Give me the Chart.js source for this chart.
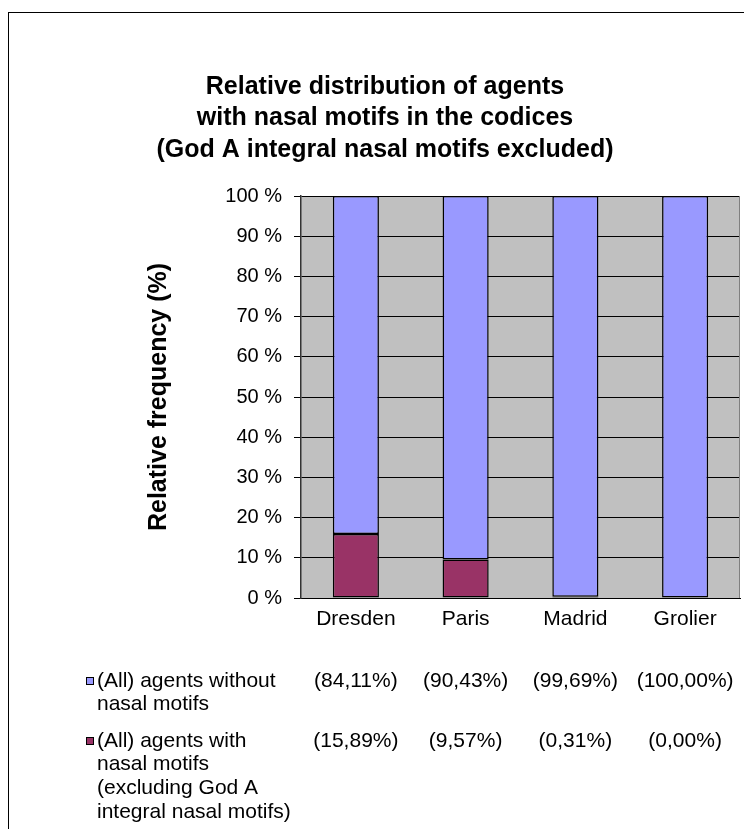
<!DOCTYPE html>
<html lang="en">
<head>
  <meta charset="UTF-8" />
  <title>Relative distribution of agents</title>
  <script src="https://cdn.jsdelivr.net/npm/chart.js"></script>
  <style>
    body { margin: 0; background: #fff; }
    #wrap { width: 744px; height: 829px; }
  </style>
</head>
<body>
  <div id="wrap"><canvas id="grafico" width="744" height="829"></canvas></div>

  <script>
    const codices = ["Dresden", "Paris", "Madrid", "Grolier"];
    const semNasal = [84.11, 90.43, 99.69, 100.00];
    const comNasal = [15.89, 9.57, 0.31, 0.00];
    const yTicks = [0, 10, 20, 30, 40, 50, 60, 70, 80, 90, 100];
    const tituloLinhas = [
      "Relative distribution of agents",
      "with nasal motifs in the codices",
      "(God A integral nasal motifs excluded)"
    ];
    const nomeSem = ["(All) agents without", "nasal motifs"];
    const nomeCom = ["(All) agents with", "nasal motifs", "(excluding God A", "integral nasal motifs)"];

    const FONTE = "'Liberation Sans', Arial, sans-serif";
    const AZUL = "#9999FF";
    const VINHO = "#993366";

    const fmt = v => "(" + v.toFixed(2).replace(".", ",") + "%)";

    // moldura, fundo cinza, titulo e tabela de dados
    const desenhoExtra = {
      id: "desenhoExtra",
      beforeDraw(chart) {
        const { ctx, chartArea: a } = chart;
        ctx.save();
        ctx.fillStyle = "#fff";
        ctx.fillRect(0, 0, chart.width, chart.height);
        ctx.strokeStyle = "#000";
        ctx.lineWidth = 1;
        ctx.strokeRect(8.5, 12.5, 900, 900);
        ctx.fillStyle = "#C0C0C0";
        ctx.fillRect(a.left, a.top, a.right - a.left, a.bottom - a.top);
        ctx.restore();
      },
      afterDraw(chart) {
        const { ctx, chartArea: a } = chart;
        const x = chart.scales.x;
        ctx.save();
        // borda direita da area
        ctx.strokeStyle = "#808080";
        ctx.lineWidth = 1;
        ctx.beginPath();
        ctx.moveTo(a.right - 0.5, a.top);
        ctx.lineTo(a.right - 0.5, a.bottom);
        ctx.stroke();

        ctx.fillStyle = "#000";
        ctx.textAlign = "center";
        ctx.textBaseline = "middle";
        ctx.font = "bold 25px " + FONTE;
        tituloLinhas.forEach((t, i) => ctx.fillText(t, 385, 87 + i * 31.5));

        // tabela
        const linhas = [
          { nome: nomeSem, valores: semNasal, cor: AZUL, y: 681 },
          { nome: nomeCom, valores: comNasal, cor: VINHO, y: 741 }
        ];
        ctx.font = "21px " + FONTE;
        linhas.forEach(l => {
          ctx.fillStyle = l.cor;
          ctx.fillRect(86, l.y - 4, 8, 8);
          ctx.strokeStyle = "#000";
          ctx.strokeRect(86.5, l.y - 3.5, 7, 7);
          ctx.fillStyle = "#000";
          ctx.textAlign = "left";
          l.nome.forEach((t, i) => ctx.fillText(t, 97, l.y + i * 23.7));
          ctx.textAlign = "center";
          l.valores.forEach((v, i) => ctx.fillText(fmt(v), x.getPixelForValue(i), l.y));
        });
        ctx.restore();
      }
    };

    new Chart(document.getElementById("grafico"), {
      type: "bar",
      data: {
        labels: codices,
        datasets: [
          {
            label: nomeCom.join(" "),
            data: comNasal,
            backgroundColor: VINHO,
            borderColor: "#000",
            borderWidth: 1.5,
            borderSkipped: false,
            categoryPercentage: 1,
            barPercentage: 0.42
          },
          {
            label: nomeSem.join(" "),
            data: semNasal,
            backgroundColor: AZUL,
            borderColor: "#000",
            borderWidth: 1.5,
            borderSkipped: false,
            categoryPercentage: 1,
            barPercentage: 0.42
          }
        ]
      },
      options: {
        responsive: false,
        animation: false,
        devicePixelRatio: 1,
        layout: { padding: { left: 140, top: 196, right: 4, bottom: 186 } },
        plugins: {
          legend: { display: false },
          title: { display: false },
          tooltip: { enabled: false }
        },
        scales: {
          x: {
            stacked: true,
            grid: { display: false },
            border: { display: true, color: "#000", width: 1 },
            ticks: { color: "#000", padding: 1, font: { family: FONTE, size: 21 } },
            afterFit: s => { s.height = 45; }
          },
          y: {
            stacked: true,
            min: 0,
            max: 100,
            afterBuildTicks: s => { s.ticks = yTicks.map(v => ({ value: v })); },
            grid: { color: "#000", lineWidth: 1, tickLength: 7, drawTicks: true },
            border: { display: true, color: "#333", width: 1.5 },
            ticks: {
              color: "#000",
              padding: 12,
              font: { family: FONTE, size: 20 },
              callback: v => v + " %"
            },
            title: {
              display: true,
              text: "Relative frequency (%)",
              color: "#000",
              padding: { top: 4, bottom: 0 },
              font: { family: FONTE, size: 25, weight: "bold" }
            },
            afterFit: s => { s.width = 161; }
          }
        }
      },
      plugins: [desenhoExtra]
    });
  </script>
</body>
</html>
